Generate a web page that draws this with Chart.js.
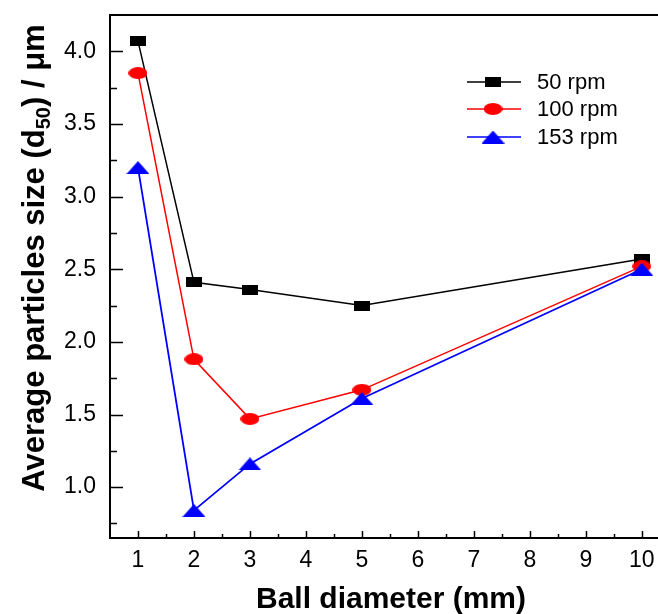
<!DOCTYPE html>
<html>
<head>
<meta charset="utf-8">
<script src="https://cdn.jsdelivr.net/npm/chart.js@4.4.1/dist/chart.umd.min.js"></script>
<style>
html,body{margin:0;padding:0;background:#fff;overflow:hidden}
#wrap{width:658px;height:614px}
</style>
</head>
<body>
<div id="wrap"><canvas id="chart" width="658" height="614"></canvas></div>
<script>
const diameters = [1, 2, 3, 5, 10];
const rpm50 = [4.07, 2.41, 2.36, 2.25, 2.57];
const rpm100 = [3.85, 1.88, 1.47, 1.67, 2.52];
const rpm153 = [3.20, 0.84, 1.16, 1.61, 2.50];
const seriesNames = ['50 rpm', '100 rpm', '153 rpm'];
const xTicks = [1, 2, 3, 4, 5, 6, 7, 8, 9, 10];
const yTicks = [1.0, 1.5, 2.0, 2.5, 3.0, 3.5, 4.0];

const FONT = "'Liberation Sans', Arial, sans-serif";

function qs(id){return document.getElementById(id);}

// origin-style markers are a bit wider than tall, so draw them on small canvases
function marker(shape, w, h, color){
  const cv = document.createElement('canvas');
  cv.width = w; cv.height = h;
  const g = cv.getContext('2d');
  g.fillStyle = color;
  g.beginPath();
  if(shape === 'square') g.rect(0, 0, w, h);
  else if(shape === 'circle') g.ellipse(w/2, h/2, w/2, h/2, 0, 0, Math.PI*2);
  else { g.moveTo(w/2, 0); g.lineTo(w, h); g.lineTo(0, h); g.closePath(); }
  g.fill();
  return cv;
}

const markers = [
  marker('square', 16, 10, '#000000'),
  marker('circle', 19, 12, '#ff0000'),
  marker('triangle', 23, 13, '#0000ff')
];
const colors = ['#000000', '#ff0000', '#0000ff'];
const values = [rpm50, rpm100, rpm153];

const pts = arr => arr.map((v, i) => ({x: diameters[i], y: v}));

const decor = {
  id: 'decor',
  afterDraw(c){
    const {ctx, chartArea: a, scales: {x, y}} = c;
    ctx.save();
    ctx.strokeStyle = '#000';
    ctx.lineWidth = 2;
    ctx.beginPath(); ctx.moveTo(a.left - 1, a.top); ctx.lineTo(a.right, a.top); ctx.stroke();

    // inward ticks
    ctx.lineWidth = 1.5;
    ctx.beginPath();
    for(let v = 1; v <= 10; v += 0.5){
      const px = Math.round(x.getPixelForValue(v)) + 0.5;
      const len = Number.isInteger(v) ? 7 : 4;
      ctx.moveTo(px, a.bottom); ctx.lineTo(px, a.bottom - len);
    }
    for(let v = 0.75; v < 4.25; v += 0.25){
      const py = Math.round(y.getPixelForValue(v)) + 0.5;
      const len = Math.abs(v*2 - Math.round(v*2)) < 1e-6 ? 13 : 7;
      ctx.moveTo(a.left, py); ctx.lineTo(a.left + len, py);
    }
    ctx.stroke();

    // legend
    const rows = [82, 109, 137];
    rows.forEach((ry, i)=>{
      ctx.strokeStyle = colors[i];
      ctx.lineWidth = 1.6;
      ctx.beginPath(); ctx.moveTo(467, ry); ctx.lineTo(521, ry); ctx.stroke();
      const m = markers[i];
      ctx.drawImage(m, 493 - m.width/2, ry - m.height/2);
      ctx.fillStyle = '#000';
      ctx.font = `22px ${FONT}`;
      ctx.textBaseline = 'middle';
      ctx.fillText(seriesNames[i], 537, ry + 1);
    });

    // x title
    ctx.fillStyle = '#000';
    ctx.font = `bold 30px ${FONT}`;
    ctx.textAlign = 'center';
    ctx.textBaseline = 'alphabetic';
    ctx.fillText('Ball diameter (mm)', 391, 608);

    // y title with subscript
    const parts = [
      ['Average particles size (d', `bold 31px ${FONT}`, 0],
      ['50', `bold 20px ${FONT}`, 6],
      [') / μm', `bold 31px ${FONT}`, 0]
    ];
    let total = 0;
    parts.forEach(p => { ctx.font = p[1]; total += ctx.measureText(p[0]).width; });
    ctx.translate(44, 258);
    ctx.rotate(-Math.PI/2);
    ctx.textAlign = 'left';
    let cx = -total/2;
    parts.forEach(p => {
      ctx.font = p[1];
      ctx.fillText(p[0], cx, p[2]);
      cx += ctx.measureText(p[0]).width;
    });
    ctx.restore();
  }
};

const chart = new Chart(qs('chart').getContext('2d'), {
  type: 'line',
  data: {
    datasets: values.map((arr, i) => ({
      label: seriesNames[i],
      data: pts(arr),
      borderColor: colors[i],
      backgroundColor: colors[i],
      borderWidth: i === 2 ? 1.8 : 1.5,
      pointStyle: markers[i],
      pointRadius: 8,
      tension: 0,
      clip: false,
      order: 3 - i
    }))
  },
  options: {
    responsive: false,
    animation: false,
    devicePixelRatio: 1,
    layout: {autoPadding: false, padding: {top: 15, left: 0, right: 0, bottom: 0}},
    plugins: {legend: {display: false}, tooltip: {enabled: false}},
    scales: {
      x: {
        type: 'linear', min: 0.5, max: 10.29,
        afterBuildTicks: s => { s.ticks = xTicks.map(v => ({value: v})); },
        afterFit: s => { s.height = 76; s.paddingLeft = 0; s.paddingRight = 0; },
        grid: {display: false, drawTicks: false},
        border: {display: true, color: '#000', width: 2},
        ticks: {color: '#000', padding: 9, maxRotation: 0, font: {family: FONT, size: 23}}
      },
      y: {
        type: 'linear', min: 0.65, max: 4.25,
        afterBuildTicks: s => { s.ticks = yTicks.map(v => ({value: v})); },
        afterFit: s => { s.width = 110; s.paddingTop = 0; s.paddingBottom = 0; },
        grid: {display: false, drawTicks: false},
        border: {display: true, color: '#000', width: 2},
        ticks: {color: '#000', padding: 14, font: {family: FONT, size: 23}, callback: v => v.toFixed(1)}
      }
    }
  },
  plugins: [decor]
});
</script>
</body>
</html>
